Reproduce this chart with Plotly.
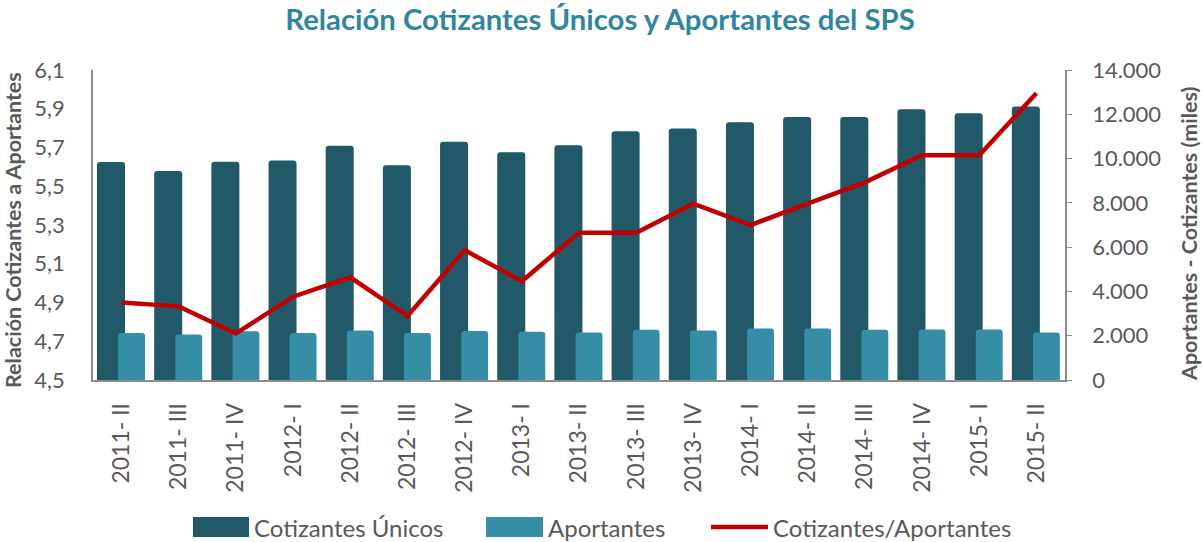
import plotly.graph_objects as go

categories = ["2011- II", "2011- III", "2011- IV", "2012- I", "2012- II", "2012- III",
              "2012- IV", "2013- I", "2013- II", "2013- III", "2013- IV", "2014- I",
              "2014- II", "2014- III", "2014- IV", "2015- I", "2015- II"]
cotizantes = [9850, 9440, 9860, 9910, 10580, 9700, 10760, 10290, 10600, 11230,
              11360, 11640, 11880, 11880, 12230, 12050, 12350]
aportantes = [2120, 2060, 2200, 2120, 2230, 2120, 2210, 2180, 2140, 2270,
              2230, 2330, 2330, 2270, 2280, 2280, 2150]
ratio = [4.90, 4.88, 4.74, 4.93, 5.03, 4.83, 5.17, 5.01, 5.26, 5.26,
         5.41, 5.30, 5.41, 5.52, 5.66, 5.66, 5.98]

series_names = ["Cotizantes Únicos", "Aportantes", "Cotizantes/Aportantes"]
series_colors = ["#215968", "#368DA6", "#C00000"]

FONT = "Lato"
GRAY = "#595959"
AXIS = "#8C8C8C"

# figure geometry (body margin removed by post_script)
W, H = 1203, 542
L, R, T, B = 93, 138, 70, 162
PW, PH = W - L - R, H - T - B


def px(x_page):
    return (x_page - L) / PW


def py(y_page):
    return (H - B - y_page) / PH


fig = go.Figure()
fig.add_trace(go.Bar(x=categories, y=cotizantes, name=series_names[0],
                     marker=dict(color=series_colors[0], line=dict(width=0)),
                     width=0.49, offset=-0.43, yaxis="y", showlegend=False))
fig.add_trace(go.Bar(x=categories, y=aportantes, name=series_names[1],
                     marker=dict(color=series_colors[1], line=dict(width=0)),
                     width=0.47, offset=-0.06, yaxis="y", showlegend=False))
fig.add_trace(go.Scatter(x=categories, y=ratio, name=series_names[2],
                         mode="lines", line=dict(color=series_colors[2], width=4.5),
                         yaxis="y2", showlegend=False))

# manual legend (large swatches like the original)
shapes = []
annotations = []
leg_y = 527
items = [(193, 249, 252, "rect"), (486, 543, 546, "rect"), (711, 768, 771, "line")]
for (x0, x1, xt, kind), name, col in zip(items, series_names, series_colors):
    if kind == "rect":
        shapes.append(dict(type="rect", xref="paper", yref="paper",
                           x0=px(x0), x1=px(x1), y0=py(leg_y + 10), y1=py(leg_y - 10),
                           fillcolor=col, line=dict(width=0), layer="above"))
    else:
        shapes.append(dict(type="line", xref="paper", yref="paper",
                           x0=px(x0), x1=px(x1), y0=py(leg_y), y1=py(leg_y),
                           line=dict(color=col, width=4.5), layer="above"))
    annotations.append(dict(text=name, xref="paper", yref="paper", x=px(xt), y=py(leg_y),
                            xanchor="left", yanchor="middle", showarrow=False,
                            font=dict(family=FONT, size=24, color=GRAY)))

# axis titles
annotations.append(dict(text="<b>Relación Cotizantes a Aportantes</b>", textangle=-90,
                        xref="paper", yref="paper", x=px(13), y=py(230),
                        xanchor="center", yanchor="middle", showarrow=False,
                        font=dict(family=FONT, size=21.5, color=GRAY)))
annotations.append(dict(text="<b>Aportantes - Cotizantes (miles)</b>", textangle=-90,
                        xref="paper", yref="paper", x=px(1189), y=py(234),
                        xanchor="center", yanchor="middle", showarrow=False,
                        font=dict(family=FONT, size=21.5, color=GRAY)))

fig.update_layout(
    width=W, height=H,
    margin=dict(l=L, r=R, t=T, b=B, autoexpand=False),
    paper_bgcolor="white", plot_bgcolor="white",
    separators=",.",
    barmode="overlay",
    barcornerradius=3,
    font=dict(family=FONT, color=GRAY, size=18),
    title=dict(text="<b>Relación Cotizantes Únicos y Aportantes del SPS</b>",
               x=600 / W, xref="container", xanchor="center",
               y=1 - 20 / H, yref="container", yanchor="middle",
               font=dict(family=FONT, size=29.3, color="#31859C")),
    xaxis=dict(type="category", tickangle=-90, showline=True, linecolor=AXIS,
               linewidth=1.5, ticks="", showgrid=False, automargin=False,
               ticklabelstandoff=12,
               tickfont=dict(family=FONT, size=23, color=GRAY)),
    yaxis=dict(side="right", range=[0, 14000], dtick=2000, tickformat=",.0f",
               showline=True, linecolor=AXIS, linewidth=1.5, ticks="outside",
               ticklen=5, tickcolor=AXIS, showgrid=False, zeroline=False,
               automargin=False, ticklabelstandoff=16,
               tickfont=dict(family=FONT, size=22, color=GRAY)),
    yaxis2=dict(side="left", overlaying="y", range=[4.5, 6.1], tick0=4.5, dtick=0.2,
                tickformat=".1f", showline=True, linecolor=AXIS, linewidth=1.5,
                ticks="", showgrid=False, zeroline=False, automargin=False,
                ticklabelstandoff=22,
                tickfont=dict(family=FONT, size=22, color=GRAY)),
    shapes=shapes,
    annotations=annotations,
    showlegend=False,
)

fig.write_html("out.html",
               config={"displayModeBar": False},
               post_script="document.body.style.margin='0';document.body.style.overflow='hidden';")
